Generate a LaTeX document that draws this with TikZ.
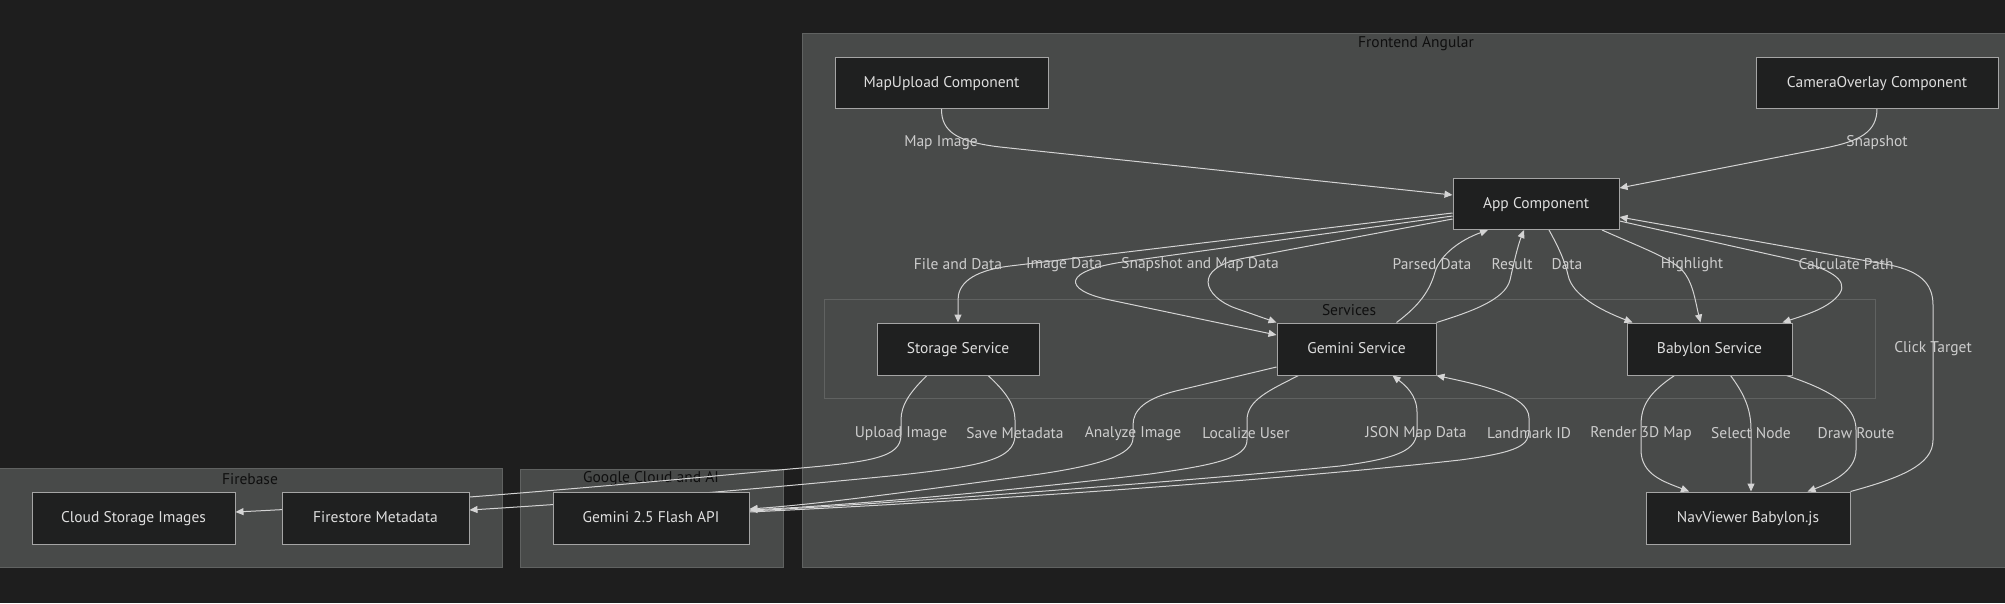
\documentclass[tikz,border=0pt]{standalone}
\usepackage{fontspec}
\setmainfont{PT Sans}
\usetikzlibrary{arrows.meta}
\definecolor{bgc}{RGB}{30,30,30}
\definecolor{clfill}{RGB}{72,74,73}
\definecolor{cldraw}{RGB}{96,98,97}
\definecolor{ndfill}{RGB}{31,32,32}
\definecolor{nddraw}{RGB}{165,165,165}
\definecolor{ndtext}{RGB}{222,222,222}
\definecolor{edgec}{RGB}{212,212,212}
\definecolor{lbltext}{RGB}{205,205,205}
\definecolor{cltitle}{RGB}{15,15,15}
\pgfdeclarelayer{back}
\pgfdeclarelayer{mid}
\pgfsetlayers{back,mid,main}
\tikzset{
  cluster/.style={draw=cldraw, fill=clfill, line width=1pt, inner sep=0pt},
  cltitle/.style={text=cltitle, font=\fontsize{15.5}{18}\selectfont, inner sep=0pt, yshift=-1pt},
  box/.style={draw=nddraw, fill=ndfill, line width=1pt, text=ndtext, inner sep=0pt,
    font=\fontsize{15.5}{18}\selectfont, text height=11pt, text depth=2pt},
  edge/.style={draw=edgec, line width=1pt, -{Triangle[length=8pt,width=7pt]}},
  lbl/.style={text=lbltext, font=\fontsize{15.5}{18}\selectfont, inner sep=0pt, yshift=-1.5pt},
}
\begin{document}
\begin{tikzpicture}[x=1pt,y=-1pt]
\useasboundingbox (0,0) rectangle (2005,603);
\begin{pgfonlayer}{back}
\fill[bgc] (0,0) rectangle (2005,603);
\node[cluster, minimum width=1210pt, minimum height=534pt] (front) at (1407,300) {};
\node[cluster, minimum width=1051pt, minimum height=99pt] (services) at (1349.5,348.5) {};
\node[cluster, minimum width=504pt, minimum height=99pt] (firebase) at (250,517.5) {};
\node[cluster, minimum width=263pt, minimum height=98pt] (google) at (651.5,518) {};
\node[cltitle] (tfront) at (1416,43) {Frontend Angular};
\node[cltitle] (tservices) at (1349,309) {Services};
\node[cltitle] (tfirebase) at (250,478) {Firebase};
\node[cltitle] (tgoogle) at (651,478) {Google Cloud and AI};
\end{pgfonlayer}

% nodes
\node[box, minimum width=213pt, minimum height=51pt] (map) at (941.5,82.5) {MapUpload Component};
\node[box, minimum width=242pt, minimum height=51pt] (cam) at (1877,82.5) {CameraOverlay Component};
\node[box, minimum width=166pt, minimum height=51pt] (app) at (1536,204) {App Component};
\node[box, minimum width=162pt, minimum height=52pt] (stor) at (958,349) {Storage Service};
\node[box, minimum width=159pt, minimum height=52pt] (gem) at (1356.5,349) {Gemini Service};
\node[box, minimum width=165pt, minimum height=52pt] (bab) at (1709.5,349) {Babylon Service};
\node[box, minimum width=204pt, minimum height=52pt] (nav) at (1748,518) {NavViewer Babylon.js};
\node[box, minimum width=203pt, minimum height=52pt] (cloud) at (133.5,518) {Cloud Storage Images};
\node[box, minimum width=187pt, minimum height=52pt] (fire) at (375.5,518) {Firestore Metadata};
\node[box, minimum width=196pt, minimum height=52pt] (api) at (651,518) {Gemini 2.5 Flash API};

\begin{pgfonlayer}{mid}
\draw[edge] (map.south) .. controls (941,132) and (958,142) .. (1000,147) -- ([yshift=9pt]app.west);
\draw[edge] (cam.south) .. controls (1877,132) and (1860,141) .. (1825,148) -- ([yshift=16pt]app.east);
\draw[edge] ([yshift=-9pt]app.west) -- (1010,266) .. controls (970,271) and (958,285) .. (958,300) -- (stor.north);
\draw[edge] ([yshift=-12pt]app.west) -- (1130,261) .. controls (1060,270) and (1062,290) .. (1110,300) -- ([yshift=14pt]gem.west);
\draw[edge] ([yshift=-15pt]app.west) -- (1245,258) .. controls (1190,268) and (1205,297) .. (1235,308) -- (gem.north west);
\draw[edge] ([xshift=40pt]gem.north) .. controls (1420,305) and (1430,290) .. (1435,272) .. controls (1440,255) and (1460,240) .. ([xshift=-48pt]app.south);
\draw[edge] (gem.north east) .. controls (1470,312) and (1505,300) .. (1510,280) .. controls (1514,262) and (1518,245) .. ([xshift=-12pt]app.south);
\draw[edge] ([xshift=13pt]app.south) .. controls (1560,250) and (1565,262) .. (1568,275) .. controls (1572,295) and (1600,310) .. ([xshift=6pt]bab.north west);
\draw[edge] ([xshift=66pt]app.south) .. controls (1640,247) and (1670,258) .. (1682,270) .. controls (1693,282) and (1695,300) .. ([xshift=-9pt]bab.north);
\draw[edge] ([yshift=-17pt]app.east) -- (1790,259) .. controls (1830,268) and (1848,280) .. (1840,293) .. controls (1830,308) and (1805,315) .. ([xshift=-10pt]bab.north east);
\draw[edge] (nav.north east) .. controls (1900,478) and (1933,465) .. (1933,440) -- (1933,305) .. controls (1933,282) and (1918,271) .. (1890,265) -- ([yshift=-13pt]app.east);
\draw[edge] ([xshift=-31pt]stor.south) .. controls (910,392) and (901,405) .. (901,420) -- (901,435) .. controls (901,458) and (870,462) .. (790,469) .. controls (620,485) and (420,503) .. ([yshift=6pt]cloud.east);
\draw[edge] ([xshift=30pt]stor.south) .. controls (1006,392) and (1015,405) .. (1015,420) -- (1015,435) .. controls (1015,460) and (980,466) .. (900,475) .. controls (750,490) and (600,502) .. ([yshift=8pt]fire.east);
\draw[edge] ([yshift=-18pt]gem.west) -- (1180,390) .. controls (1145,398) and (1133,410) .. (1133,425) -- (1133,438) .. controls (1133,455) and (1100,465) .. (1040,474) .. controls (900,493) and (820,504) .. ([yshift=9pt]api.east);
\draw[edge] ([xshift=-58pt]gem.south) .. controls (1270,390) and (1247,400) .. (1247,420) -- (1247,440) .. controls (1247,458) and (1215,465) .. (1150,474) .. controls (1000,492) and (850,505) .. ([yshift=8pt]api.east);
\draw[edge] ([yshift=7pt]api.east) .. controls (900,503) and (1200,480) .. (1340,466) .. controls (1400,458) and (1417,450) .. (1417,430) -- (1417,412) .. controls (1417,395) and (1405,385) .. ([xshift=36pt]gem.south);
\draw[edge] ([yshift=6pt]api.east) .. controls (1000,500) and (1300,478) .. (1460,460) .. controls (1520,452) and (1529,445) .. (1529,430) -- (1529,418) .. controls (1529,395) and (1480,385) .. (gem.south east);
\draw[edge] ([xshift=-35pt]bab.south) .. controls (1650,392) and (1641,405) .. (1641,425) -- (1641,450) .. controls (1641,475) and (1665,482) .. ([xshift=-59pt]nav.north);
\draw[edge] ([xshift=21pt]bab.south) .. controls (1745,395) and (1751,410) .. (1751,430) -- ([xshift=3pt]nav.north);
\draw[edge] ([xshift=-6pt]bab.south east) .. controls (1830,390) and (1856,405) .. (1856,430) -- (1856,450) .. controls (1856,472) and (1830,483) .. ([xshift=-43pt]nav.north east);
\end{pgfonlayer}

% edge labels
\node[lbl] (l1) at (941,141) {Map Image};
\node[lbl] (l2) at (1877,141) {Snapshot};
\node[lbl] (l3) at (958,263) {File and Data};
\node[lbl] (l4) at (1064,263) {Image Data};
\node[lbl] (l5) at (1200,263) {Snapshot and Map Data};
\node[lbl] (l6) at (1432,263) {Parsed Data};
\node[lbl] (l7) at (1512,263) {Result};
\node[lbl] (l8) at (1567,263) {Data};
\node[lbl] (l9) at (1692,263) {Highlight};
\node[lbl] (l10) at (1846,263) {Calculate Path};
\node[lbl] (l11) at (1933,347) {Click Target};
\node[lbl] (l12) at (901,432) {Upload Image};
\node[lbl] (l13) at (1015,432) {Save Metadata};
\node[lbl] (l14) at (1133,432) {Analyze Image};
\node[lbl] (l15) at (1246,432) {Localize User};
\node[lbl] (l16) at (1416,432) {JSON Map Data};
\node[lbl] (l17) at (1529,432) {Landmark ID};
\node[lbl] (l18) at (1641,432) {Render 3D Map};
\node[lbl] (l19) at (1751,432) {Select Node};
\node[lbl] (l20) at (1856,432) {Draw Route};
\end{tikzpicture}
\end{document}
